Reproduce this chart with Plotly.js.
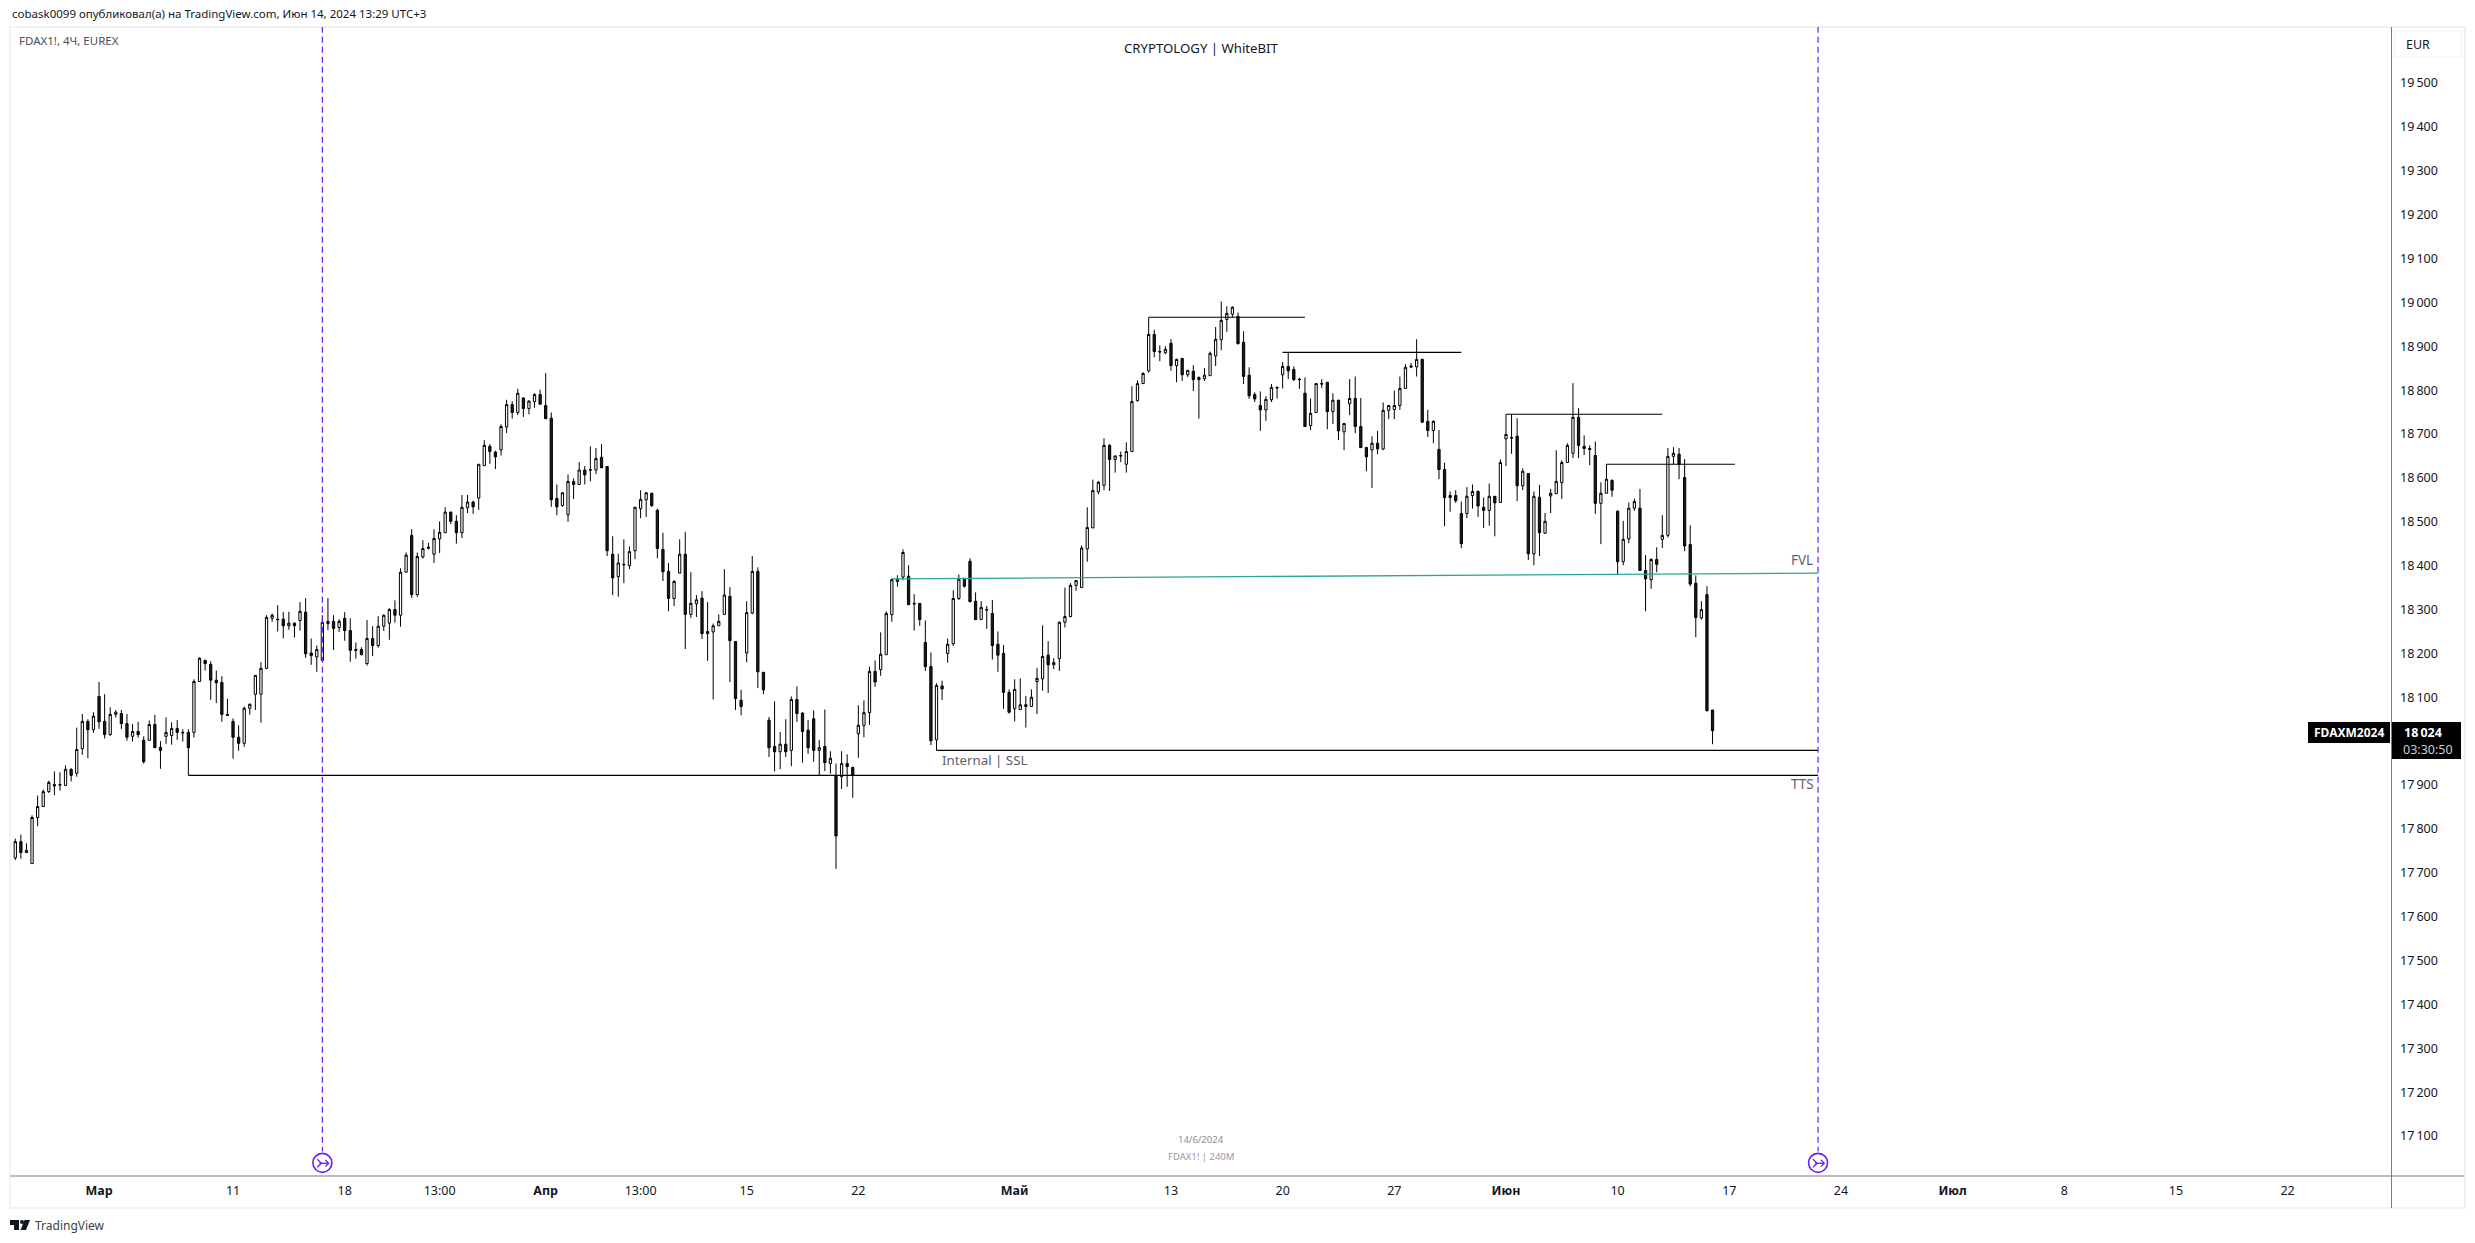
<!DOCTYPE html>
<html><head><meta charset="utf-8">
<script src="https://cdn.plot.ly/plotly-3.0.1.min.js"></script>
<style>html,body{margin:0;padding:0;background:#fff}#chart{width:2475px;height:1243px}</style>
</head><body><div id="chart"></div>
<script>
const opens=[17734,17771,17746,17721,17826,17851,17885,17901,17901,17899,
17936,17927,17983,18045,18026,18102,18045,18015,18061,18063,
18040,18011,18022,18002,18002,18038,17986,18011,18013,18029,
18020,18020,18020,18136,18184,18175,18139,18134,18061,18045,
18009,17995,18075,18107,18107,18166,18280,18278,18278,18263,
18269,18275,18294,18201,18192,18184,18268,18273,18259,18280,
18252,18209,18209,18177,18234,18218,18262,18269,18300,18287,
18385,18469,18334,18420,18442,18426,18461,18475,18522,18501,
18475,18532,18545,18554,18628,18672,18659,18664,18716,18767,
18749,18782,18758,18774,18790,18765,18736,18553,18537,18516,
18592,18585,18618,18619,18618,18647,18626,18426,18375,18403,
18400,18434,18530,18550,18565,18526,18437,18387,18325,18383,
18426,18289,18313,18326,18245,18249,18263,18289,18330,18227,
18093,18201,18292,18387,18157,18048,17988,17976,17993,17979,
18095,18064,18025,18051,17979,17988,17949,17922,17919,17949,
17940,18017,18036,18065,18159,18163,18197,18288,18364,18374,
18376,18314,18314,18225,18170,18003,18126,18200,18222,18325,
18371,18410,18319,18277,18300,18291,18221,18200,18111,18074,
18072,18083,18079,18136,18142,18196,18174,18188,18271,18284,
18355,18350,18438,18486,18568,18583,18674,18642,18651,18631,
18660,18776,18815,18844,18927,18888,18885,18907,18856,18872,
18835,18843,18824,18826,18833,18878,18915,18961,18973,18968,
18909,18834,18790,18765,18755,18778,18806,18835,18854,18847,
18825,18793,18719,18749,18815,18818,18751,18777,18705,18769,
18781,18717,18669,18664,18679,18666,18754,18756,18765,18804,
18855,18853,18870,18729,18708,18665,18619,18555,18560,18519,
18519,18560,18569,18533,18526,18558,18544,18689,18692,18695,
18582,18610,18427,18556,18474,18559,18564,18589,18635,18656,
18738,18672,18667,18651,18542,18565,18594,18524,18409,18461,
18531,18531,18389,18368,18414,18460,18469,18649,18654,18601,
18448,18360,18281,18334,18071];
const highs=[17778,17787,17767,17831,17876,17890,17910,17931,17929,17945,
17938,18031,18062,18050,18066,18135,18107,18077,18071,18071,
18062,18039,18044,18011,18047,18060,18000,18054,18043,18048,
18027,18027,18141,18191,18186,18182,18161,18148,18097,18052,
18036,18079,18086,18150,18180,18287,18291,18310,18294,18295,
18271,18317,18326,18234,18218,18287,18326,18287,18278,18294,
18280,18225,18214,18276,18262,18285,18289,18303,18321,18394,
18430,18483,18430,18458,18452,18483,18501,18533,18523,18515,
18561,18561,18548,18631,18686,18677,18662,18722,18778,18775,
18803,18784,18777,18793,18801,18839,18749,18585,18568,18608,
18599,18636,18627,18672,18668,18677,18626,18467,18427,18460,
18444,18534,18572,18568,18566,18530,18475,18406,18367,18460,
18477,18385,18333,18342,18317,18268,18289,18392,18351,18228,
18117,18319,18422,18396,18157,18055,18091,18021,18050,18102,
18125,18066,18048,18070,18003,18072,17977,17949,17977,17970,
17942,18082,18093,18170,18184,18248,18296,18371,18378,18437,
18401,18335,18314,18275,18202,18132,18138,18234,18344,18380,
18371,18417,18339,18319,18308,18322,18250,18219,18118,18141,
18143,18103,18118,18167,18264,18228,18189,18273,18350,18360,
18366,18446,18533,18596,18593,18690,18677,18651,18660,18681,
18809,18822,18841,18966,18938,18902,18900,18916,18872,18874,
18846,18857,18831,18850,18888,18944,19002,18991,18991,18977,
18934,18852,18795,18797,18786,18814,18809,18864,18886,18854,
18828,18829,18781,18815,18825,18818,18793,18778,18724,18825,
18831,18782,18671,18695,18707,18772,18765,18799,18831,18859,
18862,18916,18872,18755,18731,18709,18635,18569,18572,18546,
18579,18585,18572,18555,18587,18558,18642,18745,18745,18736,
18622,18610,18569,18584,18520,18575,18663,18640,18679,18816,
18759,18697,18674,18683,18590,18631,18597,18526,18502,18544,
18553,18575,18424,18417,18442,18515,18668,18670,18668,18643,
18492,18378,18319,18353,18071];
const lows=[17729,17732,17746,17721,17806,17851,17882,17877,17887,17899,
17908,17919,17969,17961,18019,18028,18006,18012,18054,18028,
18001,17999,18008,17949,18002,17985,17937,17994,17992,18003,
17999,17922,18008,18136,18161,18094,18087,18044,18058,17960,
17978,17987,18060,18071,18042,18164,18272,18250,18234,18254,
18236,18252,18190,18174,18158,18182,18253,18208,18249,18229,
18181,18188,18196,18172,18194,18213,18251,18231,18270,18261,
18385,18326,18329,18416,18437,18406,18429,18475,18495,18450,
18463,18520,18518,18527,18628,18632,18620,18651,18702,18735,
18743,18739,18745,18760,18768,18735,18534,18515,18534,18500,
18552,18585,18585,18592,18609,18623,18422,18333,18329,18360,
18392,18415,18508,18511,18534,18417,18365,18296,18308,18383,
18210,18281,18283,18233,18183,18095,18263,18289,18135,18071,
18059,18180,18289,18121,18107,17964,17931,17936,17964,17943,
18044,17951,17971,17953,17922,17932,17926,17709,17891,17896,
17871,17962,18009,18037,18124,18149,18197,18272,18352,18367,
18311,18252,18263,18160,17991,17979,18094,18179,18217,18322,
18350,18316,18277,18277,18256,18186,18158,18074,18063,18045,
18072,18031,18079,18062,18115,18110,18164,18160,18259,18282,
18343,18350,18409,18486,18563,18572,18570,18612,18636,18612,
18660,18774,18815,18840,18875,18866,18882,18844,18818,18821,
18830,18798,18735,18821,18833,18855,18891,18933,18966,18904,
18814,18780,18773,18707,18730,18773,18781,18804,18825,18821,
18803,18717,18709,18749,18805,18711,18723,18686,18663,18743,
18702,18669,18615,18577,18654,18663,18734,18734,18755,18804,
18850,18831,18725,18693,18679,18597,18490,18523,18543,18440,
18508,18530,18511,18486,18491,18467,18544,18627,18655,18547,
18572,18413,18401,18422,18472,18520,18564,18552,18635,18645,
18645,18652,18629,18518,18449,18565,18557,18380,18401,18451,
18525,18389,18296,18347,18385,18440,18464,18631,18597,18433,
18353,18237,18277,18069,17993];
const closes=[17771,17746,17751,17826,17851,17885,17906,17898,17900,17936,
17922,17981,18045,18026,18057,18044,18015,18061,18066,18040,
18009,18022,18015,17953,18038,17985,17979,18020,18029,18020,
18019,17985,18136,18189,18177,18139,18133,18061,18059,18009,
17995,18075,18084,18150,18166,18282,18287,18277,18263,18269,
18263,18296,18199,18195,18209,18271,18273,18257,18273,18252,
18207,18207,18197,18234,18218,18262,18287,18300,18287,18385,
18424,18334,18421,18439,18440,18462,18476,18522,18501,18475,
18533,18545,18534,18631,18674,18660,18648,18717,18767,18749,
18793,18758,18775,18790,18768,18735,18550,18534,18566,18592,
18585,18618,18607,18618,18644,18623,18434,18372,18406,18402,
18432,18533,18551,18566,18537,18439,18386,18325,18364,18426,
18289,18314,18322,18245,18250,18263,18273,18333,18229,18097,
18079,18293,18387,18158,18117,17985,17976,17993,17976,18095,
18063,18022,17985,17979,17985,17951,17961,17784,17949,17942,
17922,18036,18065,18159,18135,18198,18291,18368,18369,18430,
18311,18313,18277,18170,18001,18127,18119,18221,18325,18369,
18353,18318,18277,18305,18299,18218,18196,18111,18066,18118,
18083,18079,18100,18143,18193,18174,18179,18271,18284,18355,
18366,18440,18487,18571,18590,18674,18642,18650,18650,18660,
18774,18815,18838,18927,18888,18887,18893,18856,18870,18835,
18845,18824,18829,18834,18884,18916,18959,18975,18989,18906,
18831,18787,18780,18755,18779,18806,18805,18854,18844,18824,
18824,18717,18747,18815,18814,18751,18777,18707,18724,18781,
18717,18669,18648,18679,18666,18754,18765,18765,18804,18852,
18853,18870,18727,18708,18729,18619,18555,18560,18548,18450,
18558,18569,18536,18526,18558,18543,18635,18699,18691,18582,
18615,18427,18558,18475,18501,18565,18592,18635,18674,18738,
18674,18667,18665,18542,18565,18597,18572,18409,18460,18531,
18546,18389,18370,18414,18403,18469,18649,18656,18631,18445,
18358,18282,18300,18069,18024];

const yTickVals=[17100,17200,17300,17400,17500,17600,17700,17800,17900,18000,18100,18200,18300,18400,18500,18600,18700,18800,18900,19000,19100,19200,19300,19400,19500];
const yTickText=["17\u2009100","17\u2009200","17\u2009300","17\u2009400","17\u2009500","17\u2009600","17\u2009700","17\u2009800","17\u2009900","18\u2009000","18\u2009100","18\u2009200","18\u2009300","18\u2009400","18\u2009500","18\u2009600","18\u2009700","18\u2009800","18\u2009900","19\u2009000","19\u2009100","19\u2009200","19\u2009300","19\u2009400","19\u2009500"];
const xTickVals=[15,39,59,76,95,112,131,151,179,207,227,247,267,287,307,327,347,367,387,407];
const xTickText=["<b>Мар</b>","11","18","13:00","<b>Апр</b>","13:00","15","22","<b>Май</b>","13","20","27","<b>Июн</b>","10","17","24","<b>Июл</b>","8","15","22"];

const ttsX=[31,322.9], ttsY=[17922,17922];
const sslX=[165,322.9], sslY=[17979,17979];
const fvlX=[157,322.9], fvlY=[18370,18383];
const levelA_X=[203,231], levelA_Y=[18966,18966];
const levelB_X=[227,259], levelB_Y=[18886,18886];
const levelC_X=[267,295], levelC_Y=[18745,18745];
const levelD_X=[285,308], levelD_Y=[18631,18631];
const vlineX=[55,322.9];
const vlineTop=19628, vlineBottom=17065, vmarkY=17039;

const W=2475,H=1243,L=11,R=83,T=27,B=67;
const fx=p=>(p-L)/(W-L-R), fy=p=>1-(p-T)/(H-T-B);
const FONT='"Noto Sans", sans-serif';
const idx=opens.map((_,i)=>i);
const lineTrace=(x,y,color,width)=>({type:'scatter',mode:'lines',x,y,line:{color,width},hoverinfo:'skip',showlegend:false});
const data=[
 {type:'candlestick',x:idx,open:opens,high:highs,low:lows,close:closes,
  increasing:{line:{color:'#000000',width:1},fillcolor:'#ffffff'},
  decreasing:{line:{color:'#000000',width:1},fillcolor:'#1a1a1a'},
  whiskerwidth:0,hoverinfo:'skip',showlegend:false},
 lineTrace(ttsX,ttsY,'#000000',1.1),
 lineTrace(sslX,sslY,'#000000',1.1),
 lineTrace(fvlX,fvlY,'#2aa794',1.3),
 lineTrace(levelA_X,levelA_Y,'#000000',1.1),
 lineTrace(levelB_X,levelB_Y,'#000000',1.1),
 lineTrace(levelC_X,levelC_Y,'#000000',1.1),
 lineTrace(levelD_X,levelD_Y,'#000000',1.1),
];
vlineX.forEach(v=>{
 data.push({type:'scatter',mode:'lines',x:[v,v],y:[vlineTop,vlineBottom],line:{color:'#651fff',width:1.2,dash:'6px,4px'},hoverinfo:'skip',showlegend:false});
});
data.push({type:'scatter',mode:'markers',x:vlineX,y:[vmarkY,vmarkY],cliponaxis:false,hoverinfo:'skip',showlegend:false,
 marker:{symbol:'circle',size:19,color:'#ffffff',line:{color:'#651fff',width:1.6}}});

const ann=(text,px,py,opts={})=>Object.assign({text,x:fx(px),y:fy(py),xref:'paper',yref:'paper',showarrow:false,
 xanchor:'left',yanchor:'middle',align:'left',font:{family:FONT,size:12,color:'#131722'}},opts);
const annotations=[
 ann('cobask0099 опубликовал(а) на TradingView.com, Июн 14, 2024 13:29 UTC+3',10,14,{font:{family:FONT,size:11.5,color:'#131722'}}),
 ann('FDAX1!, 4Ч, EUREX',17,41,{font:{family:FONT,size:11.5,color:'#4a4e59'}}),
 ann('CRYPTOLOGY | WhiteBIT',1201,48,{xanchor:'center',font:{family:FONT,size:13.2,color:'#131722'}}),
 ann('14/6/2024',1201,1139,{xanchor:'center',font:{family:FONT,size:9.5,color:'#8a8d96'}}),
 ann('FDAX1! | 240M',1201,1156,{xanchor:'center',font:{family:FONT,size:9.5,color:'#9598a1'}}),
 ann('TradingView',33,1225,{font:{family:FONT,size:12,color:'#3d3f46'}}),
 ann('Internal | SSL',940,760,{font:{family:FONT,size:13.3,color:'#5d606b'}}),
 ann('FVL',1789,560,{font:{family:FONT,size:13.5,color:'#5d606b'}}),
 ann('TTS',1789,784,{font:{family:FONT,size:13.5,color:'#5d606b'}}),
 ann('EUR',2404,44,{font:{family:FONT,size:12.5,color:'#131722'}}),
 ann('<b>FDAXM2024</b>',2349,732,{xanchor:'center',font:{family:FONT,size:12,color:'#ffffff'}}),
 ann('<b>18\u2009024</b>',2402,732,{font:{family:FONT,size:12.5,color:'#ffffff'}}),
 ann('03:30:50',2401,749,{font:{family:FONT,size:12.5,color:'#cfcfcf'}}),
];
const rect=(x0,y0,x1,y1,fill)=>({type:'rect',xref:'paper',yref:'paper',x0:fx(x0),y0:fy(y0),x1:fx(x1),y1:fy(y1),
 fillcolor:fill,line:{color:fill,width:0},layer:'above'});
const pathPx=(pts,close)=>pts.map((p,i)=>(i?'L':'M')+fx(p[0])+','+fy(p[1])).join(' ')+(close?' Z':'');
const shapes=[
 {type:'rect',xref:'paper',yref:'paper',x0:fx(10),y0:fy(27),x1:fx(2465),y1:fy(1208),line:{color:'#f0f0f5',width:2},fillcolor:'rgba(0,0,0,0)',layer:'below'},
 rect(10.5,1175.5,2464,1176.5,'#7a7a82'),
 rect(2391,27,2392,1208,'#7a7a82'),
 {type:'rect',xref:'paper',yref:'paper',x0:fx(2395),y0:fy(31),x1:fx(2461),y1:fy(57),line:{color:'#eef0f5',width:1.2},fillcolor:'rgba(0,0,0,0)',layer:'above'},
 rect(2308,722,2390,743,'#000000'),
 rect(2392,722,2461,759,'#000000'),
 {type:'path',xref:'paper',yref:'paper',path:pathPx([[10,1220],[19,1220],[19,1230],[14,1230],[14,1225],[10,1225]],true),fillcolor:'#131722',line:{width:0}},
 {type:'path',xref:'paper',yref:'paper',path:pathPx([[30,1220],[26,1230],[20.5,1230],[24.5,1220]],true),fillcolor:'#131722',line:{width:0}},
 {type:'circle',xref:'paper',yref:'paper',x0:fx(20),y0:fy(1220),x1:fx(24),y1:fy(1224),fillcolor:'#131722',line:{width:0}},
];
[322.3,1818].forEach(cx=>{
 const cy=1163.3, st={type:'path',xref:'paper',yref:'paper',line:{color:'#651fff',width:1.3},layer:'above'};
 shapes.push(Object.assign({},st,{path:pathPx([[cx-3,cy],[cx+6,cy]])}));
 shapes.push(Object.assign({},st,{path:pathPx([[cx+3,cy-3.3],[cx+6.3,cy],[cx+3,cy+3.3]])}));
 shapes.push(Object.assign({},st,{path:pathPx([[cx-5,cy-4],[cx-1,cy],[cx-5,cy+4]])}));
});
const layout={
 width:W,height:H,margin:{l:L,r:R,t:T,b:B,pad:0},paper_bgcolor:'#ffffff',plot_bgcolor:'#ffffff',
 showlegend:false,dragmode:false,boxgap:0.42,boxgroupgap:0.3,
 xaxis:{range:[-0.77,425.7],type:'linear',rangeslider:{visible:false},showgrid:false,zeroline:false,showline:false,
  tickmode:'array',tickvals:xTickVals,ticktext:xTickText,ticks:'',tickangle:0,ticklabelstandoff:5,
  tickfont:{family:FONT,size:12.5,color:'#131722'}},
 yaxis:{range:[17009,19627.6],type:'linear',side:'right',showgrid:false,zeroline:false,showline:false,
  tickmode:'array',tickvals:yTickVals,ticktext:yTickText,ticks:'',ticklabelstandoff:7,
  tickfont:{family:FONT,size:12.5,color:'#131722'}},
 annotations,shapes
};
Plotly.newPlot('chart',data,layout,{staticPlot:true,displayModeBar:false});
</script></body></html>
